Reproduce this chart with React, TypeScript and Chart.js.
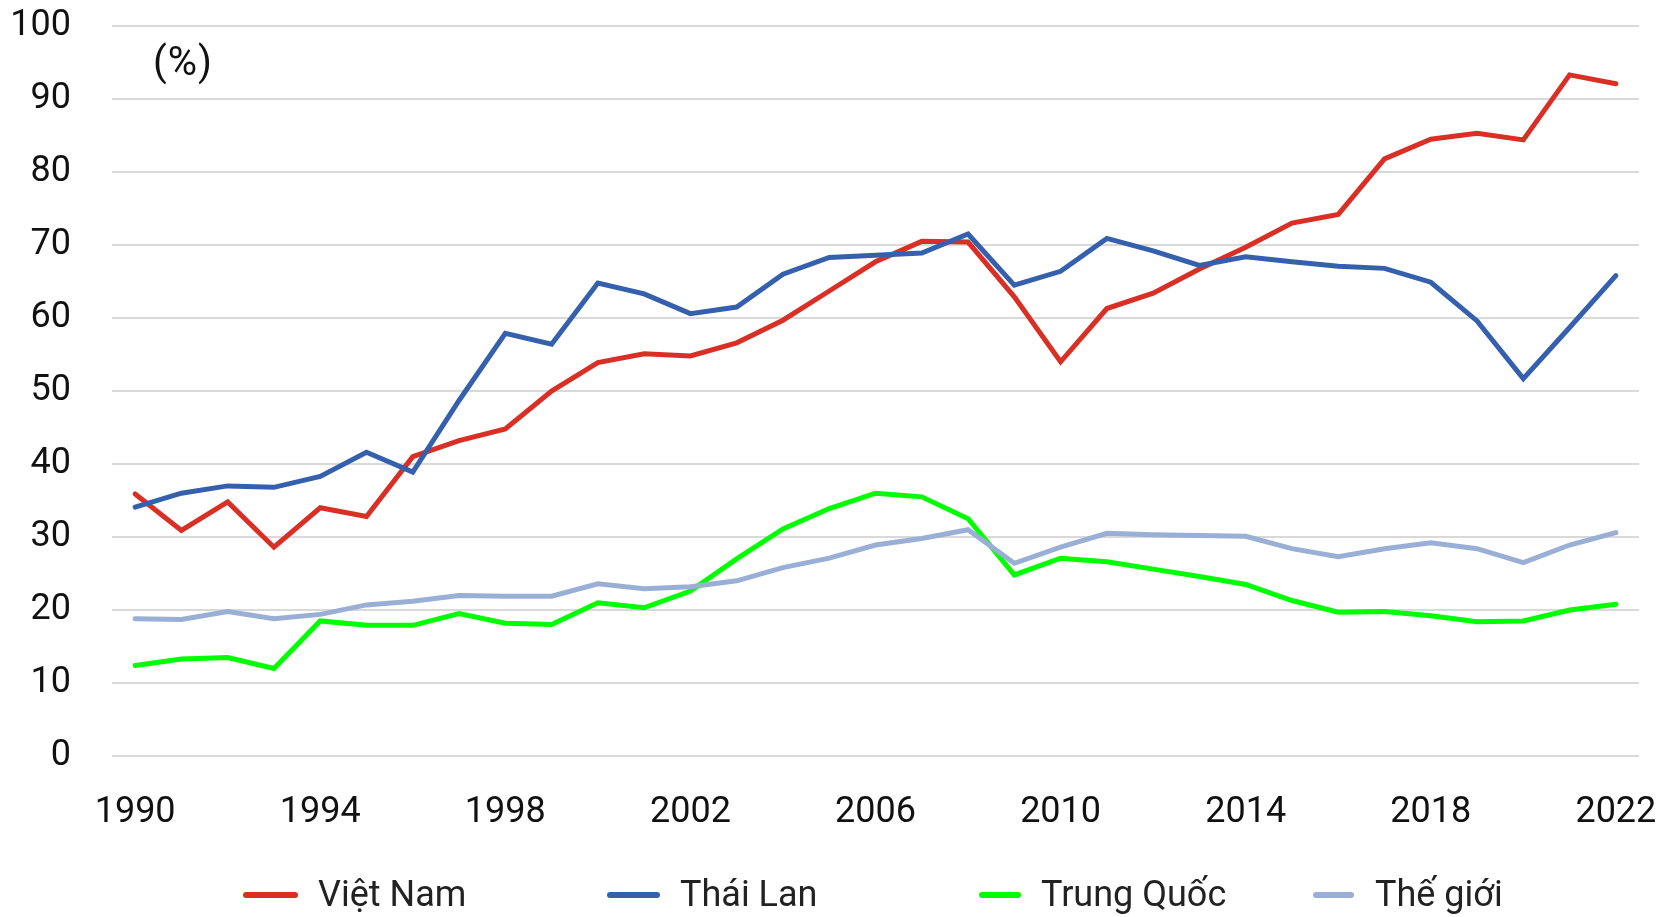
import React, { useEffect, useRef } from "react";
import { Chart, registerables } from "chart.js";

Chart.register(...registerables);

const years: string[] = [
  "1990","1991","1992","1993","1994","1995","1996","1997","1998","1999",
  "2000","2001","2002","2003","2004","2005","2006","2007","2008","2009",
  "2010","2011","2012","2013","2014","2015","2016","2017","2018","2019",
  "2020","2021","2022",
];

const vietNam: number[] = [
  35.9, 30.9, 34.8, 28.6, 34.0, 32.8, 41.0, 43.2, 44.8, 50.0,
  53.9, 55.1, 54.8, 56.6, 59.7, 63.7, 67.7, 70.5, 70.4, 62.9,
  54.0, 61.3, 63.4, 66.7, 69.7, 73.0, 74.2, 81.8, 84.5, 85.3,
  84.4, 93.3, 92.1,
];

const thaiLan: number[] = [
  34.1, 36.0, 37.0, 36.8, 38.3, 41.6, 38.9, 48.7, 57.9, 56.4,
  64.8, 63.3, 60.6, 61.5, 66.0, 68.3, 68.6, 68.9, 71.5, 64.5,
  66.4, 70.9, 69.2, 67.2, 68.4, 67.7, 67.1, 66.8, 64.9, 59.6,
  51.7, 58.7, 65.8,
];

const trungQuoc: number[] = [
  12.4, 13.3, 13.5, 12.0, 18.5, 17.9, 17.9, 19.5, 18.2, 18.0,
  21.0, 20.3, 22.6, 27.0, 31.1, 33.9, 36.0, 35.5, 32.5, 24.8,
  27.1, 26.6, 25.6, 24.6, 23.5, 21.3, 19.7, 19.8, 19.2, 18.4,
  18.5, 20.0, 20.8,
];

const theGioi: number[] = [
  18.8, 18.7, 19.8, 18.8, 19.4, 20.7, 21.2, 22.0, 21.9, 21.9,
  23.6, 22.9, 23.2, 24.0, 25.8, 27.1, 28.9, 29.8, 31.0, 26.4,
  28.6, 30.5, 30.3, 30.2, 30.1, 28.4, 27.3, 28.4, 29.2, 28.4,
  26.5, 28.9, 30.6,
];

const seriesNames: string[] = ["Việt Nam", "Thái Lan", "Trung Quốc", "Thế giới"];
const seriesColors: string[] = ["#DA2F24", "#3560AE", "#00FF00", "#99AFD5"];

const FONT = "Roboto, 'Noto Sans', sans-serif";

const legendLayout = [
  { left: 243, lineW: 55, textLeft: 318 },
  { left: 607, lineW: 53, textLeft: 680 },
  { left: 979, lineW: 42, textLeft: 1041 },
  { left: 1313, lineW: 41, textLeft: 1375 },
];

const zeroPadding = (scale: any) => {
  scale.paddingLeft = 0;
  scale.paddingRight = 0;
  scale.paddingTop = 0;
  scale.paddingBottom = 0;
};

export default function App() {
  const canvasRef = useRef<HTMLCanvasElement | null>(null);

  useEffect(() => {
    const canvas = canvasRef.current;
    if (!canvas) return;
    const seriesData = [vietNam, thaiLan, trungQuoc, theGioi];
    const chart = new Chart(canvas, {
      type: "line",
      data: {
        labels: years,
        datasets: seriesData.map((d, i) => ({
          label: seriesNames[i],
          data: d,
          borderColor: seriesColors[i],
          backgroundColor: seriesColors[i],
          borderWidth: 5,
          borderCapStyle: "round" as const,
          pointRadius: 0,
          pointHoverRadius: 0,
          tension: 0,
          fill: false,
          order: 3 - i,
        })),
      },
      options: {
        responsive: false,
        maintainAspectRatio: false,
        animation: false,
        devicePixelRatio: 1,
        layout: { padding: { left: 10, right: 38, top: 26, bottom: 80 } },
        plugins: {
          legend: { display: false },
          tooltip: { enabled: false },
          title: { display: false },
        },
        scales: {
          x: {
            type: "category",
            offset: true,
            afterFit: (scale: any) => {
              zeroPadding(scale);
              scale.height = 81;
            },
            grid: { display: false, drawTicks: false },
            border: { display: false },
            ticks: {
              autoSkip: false,
              maxRotation: 0,
              minRotation: 0,
              padding: 35,
              color: "#111111",
              font: { family: FONT, size: 36 },
              callback: function (_v: any, idx: number) {
                const y = parseInt(years[idx], 10);
                return (y - 1990) % 4 === 0 ? years[idx] : "";
              },
            },
          },
          y: {
            min: 0,
            max: 100,
            afterFit: (scale: any) => {
              zeroPadding(scale);
              scale.width = 102;
            },
            grid: { color: "#D9D9D9", lineWidth: 2, drawTicks: false },
            border: { display: false },
            ticks: {
              stepSize: 10,
              padding: 41,
              color: "#111111",
              font: { family: FONT, size: 36 },
            },
          },
        },
      },
    });
    return () => chart.destroy();
  }, []);

  return (
    <div
      style={{
        position: "fixed",
        left: 0,
        top: 0,
        width: 1677,
        height: 917,
        background: "#ffffff",
        fontFamily: FONT,
        overflow: "hidden",
      }}
    >
      <canvas ref={canvasRef} width={1677} height={917} style={{ position: "absolute", left: 0, top: 0 }} />
      <div
        style={{
          position: "absolute",
          left: 153,
          top: 62,
          transform: "translateY(-50%)",
          fontSize: 40,
          letterSpacing: 1,
          lineHeight: "44px",
          color: "#111111",
        }}
      >
        (%)
      </div>
      {seriesNames.map((name, i) => (
        <React.Fragment key={name}>
          <div
            style={{
              position: "absolute",
              left: legendLayout[i].left,
              top: 892,
              width: legendLayout[i].lineW,
              height: 6,
              borderRadius: 3,
              background: seriesColors[i],
            }}
          />
          <div
            style={{
              position: "absolute",
              left: legendLayout[i].textLeft,
              top: 874,
              fontSize: 36,
              lineHeight: "40px",
              color: "#222222",
              whiteSpace: "nowrap",
            }}
          >
            {name}
          </div>
        </React.Fragment>
      ))}
    </div>
  );
}
